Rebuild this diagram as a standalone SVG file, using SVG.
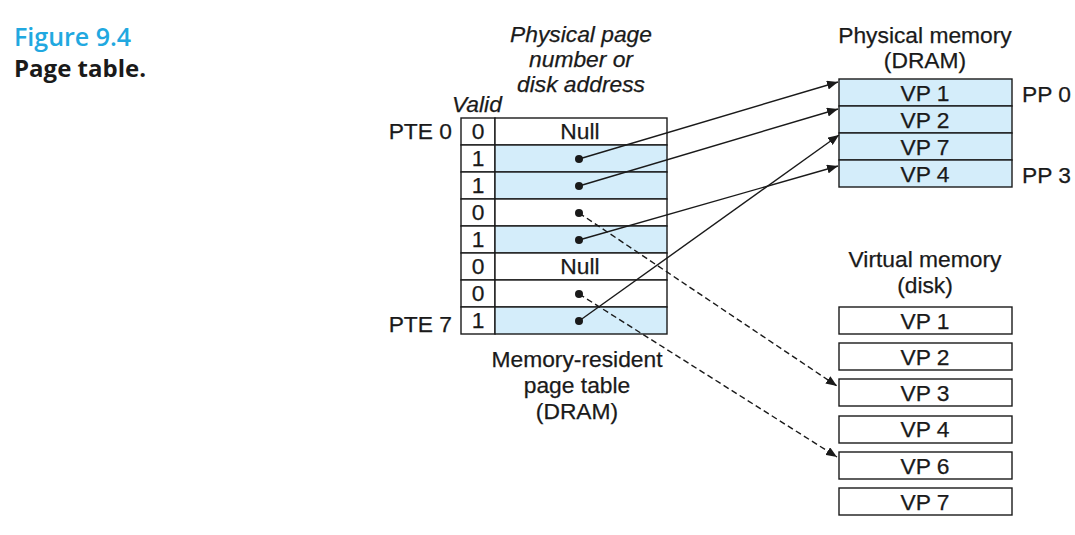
<svg xmlns="http://www.w3.org/2000/svg" width="1075" height="535" viewBox="0 0 1075 535">
  <style>
    .t { font-family: "Liberation Sans", Arial, sans-serif; font-size: 22.8px; fill: #1a1a1a; stroke: #1a1a1a; stroke-width: 0.25; }
    .c { text-anchor: middle; }
    .i { font-style: italic; }
    .cell { stroke: #1a1a1a; stroke-width: 1.4; fill: #ffffff; }
    .on { fill: #d4edfa; }
    .link { stroke: #1a1a1a; stroke-width: 1.4; fill: none; }
    .dash { stroke-dasharray: 6 3.5; }
    .dot { fill: #1a1a1a; }
  </style>
  <defs>
    <marker id="arrow" viewBox="0 0 11 9" refX="11" refY="4.5" markerWidth="11" markerHeight="9" markerUnits="userSpaceOnUse" orient="auto">
      <path d="M0,0 L11,4.5 L0,9 Z" fill="#1a1a1a"/>
    </marker>
  </defs>
  <rect width="1075" height="535" fill="#ffffff"/>

  <!-- caption -->
  <g id="caption">
    <text x="14" y="46" font-family="'Open Sans', 'Noto Sans', sans-serif" font-size="25" font-weight="600" fill="#21a8e0">Figure 9.4</text>
    <text x="14" y="77" font-family="'Open Sans', 'Noto Sans', sans-serif" font-size="24" font-weight="700" fill="#1a1a1a">Page table.</text>
  </g>

  <!-- page table -->
  <g id="page-table">
    <text class="t c i" x="581" y="42">Physical page</text>
    <text class="t c i" x="581" y="67">number or</text>
    <text class="t c i" x="581" y="92">disk address</text>
    <text class="t i" x="452" y="112">Valid</text>
    <text class="t" x="452" y="139" text-anchor="end">PTE 0</text>
    <text class="t" x="452" y="332" text-anchor="end">PTE 7</text>

    <rect class="cell" x="461" y="118" width="34" height="27"/>
    <rect class="cell" x="495" y="118" width="172" height="27"/>
    <rect class="cell" x="461" y="145" width="34" height="27"/>
    <rect class="cell on" x="495" y="145" width="172" height="27"/>
    <rect class="cell" x="461" y="172" width="34" height="27"/>
    <rect class="cell on" x="495" y="172" width="172" height="27"/>
    <rect class="cell" x="461" y="199" width="34" height="27"/>
    <rect class="cell" x="495" y="199" width="172" height="27"/>
    <rect class="cell" x="461" y="226" width="34" height="27"/>
    <rect class="cell on" x="495" y="226" width="172" height="27"/>
    <rect class="cell" x="461" y="253" width="34" height="27"/>
    <rect class="cell" x="495" y="253" width="172" height="27"/>
    <rect class="cell" x="461" y="280" width="34" height="27"/>
    <rect class="cell" x="495" y="280" width="172" height="27"/>
    <rect class="cell" x="461" y="307" width="34" height="27"/>
    <rect class="cell on" x="495" y="307" width="172" height="27"/>

    <text class="t c" x="478" y="139">0</text>
    <text class="t c" x="478" y="166">1</text>
    <text class="t c" x="478" y="193">1</text>
    <text class="t c" x="478" y="220">0</text>
    <text class="t c" x="478" y="247">1</text>
    <text class="t c" x="478" y="274">0</text>
    <text class="t c" x="478" y="301">0</text>
    <text class="t c" x="478" y="328">1</text>

    <text class="t c" x="580" y="139">Null</text>
    <text class="t c" x="580" y="274">Null</text>

    <circle class="dot" cx="579" cy="159" r="4"/>
    <circle class="dot" cx="579" cy="186" r="4"/>
    <circle class="dot" cx="579" cy="213" r="4"/>
    <circle class="dot" cx="579" cy="240" r="4"/>
    <circle class="dot" cx="579" cy="294" r="4"/>
    <circle class="dot" cx="579" cy="321" r="4"/>

    <text class="t c" x="577" y="367">Memory-resident</text>
    <text class="t c" x="577" y="393">page table</text>
    <text class="t c" x="577" y="419">(DRAM)</text>
  </g>

  <!-- physical memory -->
  <g id="physical-memory">
    <text class="t c" x="925" y="43">Physical memory</text>
    <text class="t c" x="925" y="68">(DRAM)</text>
    <rect class="cell on" x="839" y="79" width="173" height="27"/>
    <rect class="cell on" x="839" y="106" width="173" height="27"/>
    <rect class="cell on" x="839" y="133" width="173" height="27"/>
    <rect class="cell on" x="839" y="160" width="173" height="27"/>
    <text class="t c" x="925" y="100.5">VP 1</text>
    <text class="t c" x="925" y="127.5">VP 2</text>
    <text class="t c" x="925" y="154.5">VP 7</text>
    <text class="t c" x="925" y="181.5">VP 4</text>
    <text class="t" x="1022" y="102">PP 0</text>
    <text class="t" x="1022" y="183">PP 3</text>
  </g>

  <!-- virtual memory -->
  <g id="virtual-memory">
    <text class="t c" x="925" y="267">Virtual memory</text>
    <text class="t c" x="925" y="293">(disk)</text>
    <rect class="cell" x="839" y="307" width="173" height="27"/>
    <rect class="cell" x="839" y="343" width="173" height="27"/>
    <rect class="cell" x="839" y="379" width="173" height="27"/>
    <rect class="cell" x="839" y="416" width="173" height="27"/>
    <rect class="cell" x="839" y="452" width="173" height="27"/>
    <rect class="cell" x="839" y="488" width="173" height="27"/>
    <text class="t c" x="925" y="328.5">VP 1</text>
    <text class="t c" x="925" y="364.5">VP 2</text>
    <text class="t c" x="925" y="400.5">VP 3</text>
    <text class="t c" x="925" y="437">VP 4</text>
    <text class="t c" x="925" y="473.5">VP 6</text>
    <text class="t c" x="925" y="509.5">VP 7</text>
  </g>

  <!-- connectors -->
  <g id="connectors">
    <line class="link" x1="579" y1="159" x2="838" y2="82" marker-end="url(#arrow)"/>
    <line class="link" x1="579" y1="186" x2="838" y2="109" marker-end="url(#arrow)"/>
    <line class="link" x1="579" y1="240" x2="838" y2="166" marker-end="url(#arrow)"/>
    <line class="link" x1="579" y1="321" x2="839" y2="135" marker-end="url(#arrow)"/>
    <line class="link dash" x1="579" y1="213" x2="837" y2="386" marker-end="url(#arrow)"/>
    <line class="link dash" x1="579" y1="294" x2="837" y2="457" marker-end="url(#arrow)"/>
  </g>
</svg>
